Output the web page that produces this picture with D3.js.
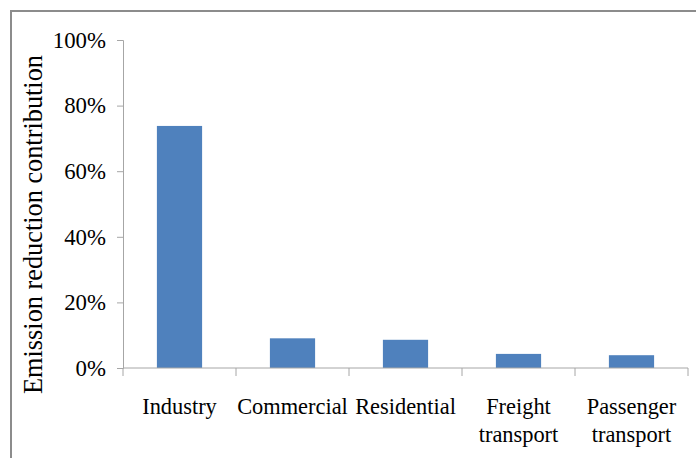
<!DOCTYPE html>
<html>
<head>
<meta charset="utf-8">
<script src="https://cdn.jsdelivr.net/npm/d3@7"></script>
<style>
  body { margin: 0; background: #fff; }
  svg { display: block; }
</style>
</head>
<body>
<div id="chart"></div>
<script>
  'use strict';

  var categories = ['Industry', 'Commercial', 'Residential', 'Freight transport', 'Passenger transport'];
  var categoryLines = [['Industry'], ['Commercial'], ['Residential'], ['Freight', 'transport'], ['Passenger', 'transport']];
  var contributions = [0.738, 0.0905, 0.086, 0.043, 0.039];
  var yTicks = [0, 0.2, 0.4, 0.6, 0.8, 1.0];
  var yAxisName = 'Emission reduction contribution';

  var width = 696;
  var height = 458;

  var plotLeft = 123, plotRight = 688, plotTop = 40, plotBottom = 368;
  var serif = '"Liberation Serif", "Times New Roman", Times, "DejaVu Serif", serif';

  var svg = d3.select('#chart')
    .append('svg')
    .attr('width', width)
    .attr('height', height);

  // Chart area frame, runs off the right and bottom edges.
  svg.append('rect')
    .attr('x', 11)
    .attr('y', 11)
    .attr('width', 720)
    .attr('height', 500)
    .attr('fill', '#fff')
    .attr('stroke', '#8c8c8c')
    .attr('stroke-width', 2);

  var xScale = d3.scaleBand()
    .domain(categories)
    .range([plotLeft, plotRight])
    .paddingInner(0.6)
    .paddingOuter(0.3);

  var yScale = d3.scaleLinear().domain([0, 1]).range([plotBottom, plotTop]);

  var axisColor = '#a6a6a6';

  // Y axis
  var yAxis = d3.axisLeft(yScale)
    .tickValues(yTicks)
    .tickFormat(d3.format('.0%'))
    .tickSize(6)
    .tickPadding(11);

  var yG = svg.append('g')
    .attr('transform', 'translate(' + plotLeft + ',0)')
    .call(yAxis)
    .attr('font-family', null)
    .attr('font-size', null);
  yG.select('.domain').attr('stroke', axisColor);
  yG.selectAll('.tick line').attr('stroke', axisColor);
  yG.selectAll('.tick text')
    .style('font-family', serif)
    .style('font-size', '22.8px')
    .attr('fill', '#000');

  // Bars
  svg.append('g')
    .selectAll('rect')
    .data(contributions)
    .enter().append('rect')
    .attr('x', function(d, i) { return xScale(categories[i]); })
    .attr('y', function(d) { return yScale(d); })
    .attr('width', xScale.bandwidth())
    .attr('height', function(d) { return yScale(0) - yScale(d); })
    .attr('fill', '#4f81bd');

  // X axis line and boundary ticks
  var xG = svg.append('g');
  xG.append('line')
    .attr('x1', plotLeft).attr('x2', plotRight)
    .attr('y1', plotBottom).attr('y2', plotBottom)
    .attr('stroke', axisColor);
  var bounds = d3.range(categories.length + 1).map(function(i) { return plotLeft + i * xScale.step(); });
  xG.selectAll('.xtick')
    .data(bounds)
    .enter().append('line')
    .attr('class', 'xtick')
    .attr('x1', function(d) { return d; })
    .attr('x2', function(d) { return d; })
    .attr('y1', plotBottom)
    .attr('y2', plotBottom + 8)
    .attr('stroke', axisColor);

  // Category labels
  var labels = xG.selectAll('.xlabel')
    .data(categories)
    .enter().append('text')
    .attr('class', 'xlabel')
    .style('font-family', serif)
    .style('font-size', '22.4px')
    .attr('fill', '#000')
    .attr('text-anchor', 'middle');
  labels.each(function(c, i) {
    var cx = xScale(c) + xScale.bandwidth() / 2;
    d3.select(this).selectAll('tspan')
      .data(categoryLines[i])
      .enter().append('tspan')
      .attr('x', cx)
      .attr('y', function(d, j) { return plotBottom + 46 + j * 28; })
      .text(function(d) { return d; });
  });

  // Y axis title
  svg.append('text')
    .style('font-family', serif)
    .style('font-size', '26.3px')
    .attr('fill', '#000')
    .attr('text-anchor', 'middle')
    .attr('transform', 'translate(42,224.5) rotate(-90)')
    .text(yAxisName);
</script>
</body>
</html>
